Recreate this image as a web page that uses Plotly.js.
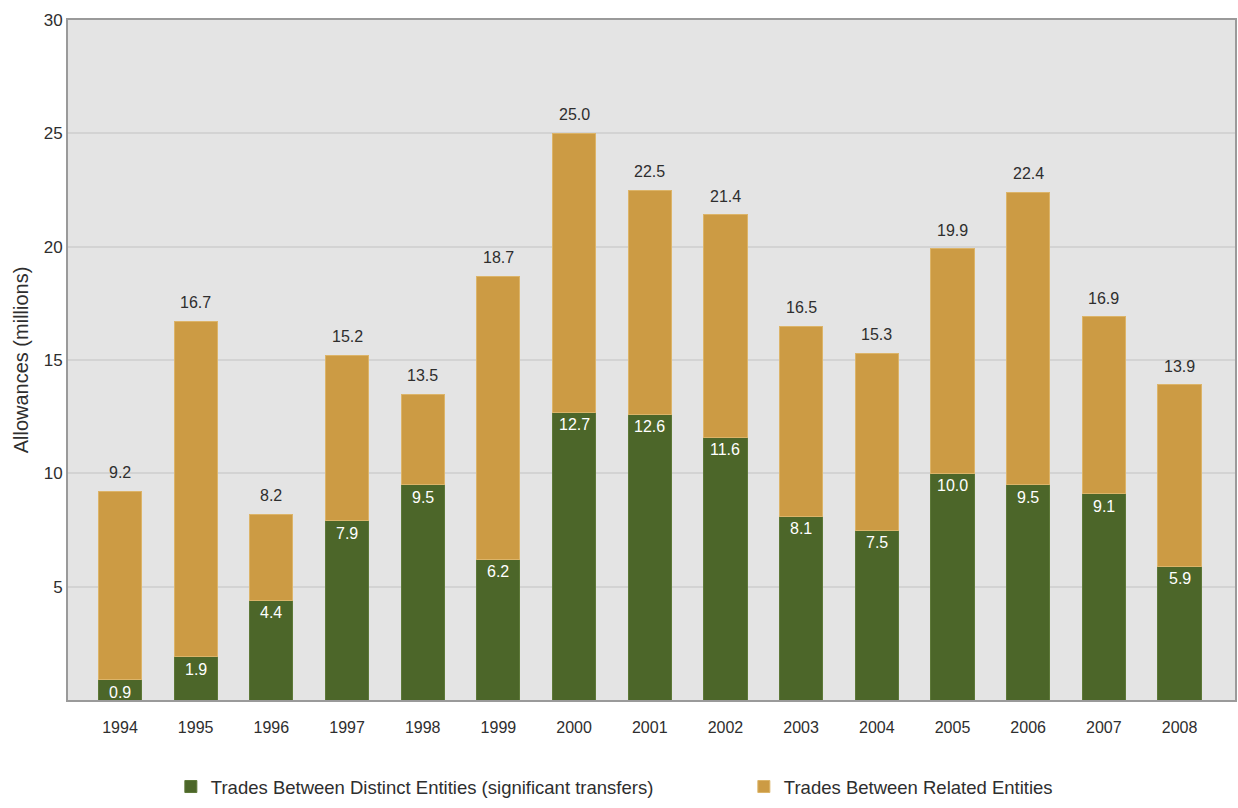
<!DOCTYPE html>
<html>
<head>
<meta charset="utf-8">
<script src="https://cdn.plot.ly/plotly-3.0.1.min.js"></script>
<style>
  html, body { margin: 0; padding: 0; background: #ffffff; }
  #chart { width: 1238px; height: 808px; }
</style>
</head>
<body>
<div id="chart"></div>
<script>
// Allowance transfers per year, in millions
const years = ['1994','1995','1996','1997','1998','1999','2000','2001','2002','2003','2004','2005','2006','2007','2008'];
const distinct = [0.9, 1.9, 4.4, 7.9, 9.5, 6.2, 12.7, 12.6, 11.6, 8.1, 7.5, 10.0, 9.5, 9.1, 5.9];
const totals = [9.2, 16.7, 8.2, 15.2, 13.5, 18.7, 25.0, 22.5, 21.4, 16.5, 15.3, 19.9, 22.4, 16.9, 13.9];
// related-entity trades make up the rest of each year's total
const related = totals.map((t, i) => +(t - distinct[i]).toFixed(1));

const yTicks = [5, 10, 15, 20, 25, 30];

const FONT = 'Liberation Sans, Arial, sans-serif';
const INK = '#2e2e2e';
const GREEN = '#4c6629';
const GOLD = '#cc9b44';

const traces = [
  {
    type: 'bar',
    name: 'Trades Between Distinct Entities (significant transfers)',
    x: years,
    y: distinct,
    marker: { color: GREEN, line: { color: '#5d7838', width: 1 } },
    width: 0.57,
    hoverinfo: 'x+y'
  },
  {
    type: 'bar',
    name: 'Trades Between Related Entities',
    x: years,
    y: related,
    marker: { color: GOLD, line: { color: '#dcb469', width: 1 } },
    width: 0.57,
    hoverinfo: 'x+y'
  }
];

// value labels: each stack's total above it, the distinct-entity value inside the green segment
const annotations = [];
for (let i = 0; i < years.length; i++) {
  annotations.push({
    xref: 'x', yref: 'y', x: i, y: totals[i],
    text: totals[i].toFixed(1), showarrow: false,
    xanchor: 'center', yanchor: 'bottom', yshift: 8,
    font: { family: FONT, size: 16, color: INK }
  });
  annotations.push({
    xref: 'x', yref: 'y', x: i, y: distinct[i],
    text: distinct[i].toFixed(1), showarrow: false,
    xanchor: 'center', yanchor: 'top', yshift: -2,
    font: { family: FONT, size: 16, color: '#ffffff' }
  });
}

const layout = {
  width: 1238,
  height: 808,
  margin: { l: 68, r: 3, t: 20, b: 108 },
  paper_bgcolor: '#ffffff',
  plot_bgcolor: '#e4e4e4',
  barmode: 'stack',
  showlegend: true,
  legend: {
    orientation: 'h',
    traceorder: 'normal',
    xref: 'container', yref: 'container',
    x: 0.138, y: 0.026, xanchor: 'left', yanchor: 'middle',
    entrywidth: 528,
    font: { family: FONT, size: 18.5, color: INK },
    bgcolor: 'rgba(0,0,0,0)'
  },
  xaxis: {
    type: 'category',
    range: [-0.687, 14.733],
    showgrid: false,
    showline: true, mirror: true,
    linecolor: '#9a9a9a', linewidth: 2,
    ticks: 'outside', ticklen: 12, tickcolor: 'rgba(0,0,0,0)',
    tickfont: { family: FONT, size: 16, color: INK },
    fixedrange: true
  },
  yaxis: {
    range: [0, 30],
    tickvals: yTicks,
    ticktext: yTicks.map(String),
    showgrid: true,
    gridcolor: '#d3d3d3', gridwidth: 2,
    zeroline: false,
    showline: true, mirror: true,
    linecolor: '#9a9a9a', linewidth: 2,
    ticks: '',
    tickfont: { family: FONT, size: 17, color: INK },
    title: {
      text: 'Allowances (millions)',
      font: { family: FONT, size: 20, color: INK },
      standoff: 10
    },
    fixedrange: true
  },
  annotations: annotations
};

Plotly.newPlot('chart', traces, layout, { displayModeBar: false, staticPlot: true });
</script>
</body>
</html>
